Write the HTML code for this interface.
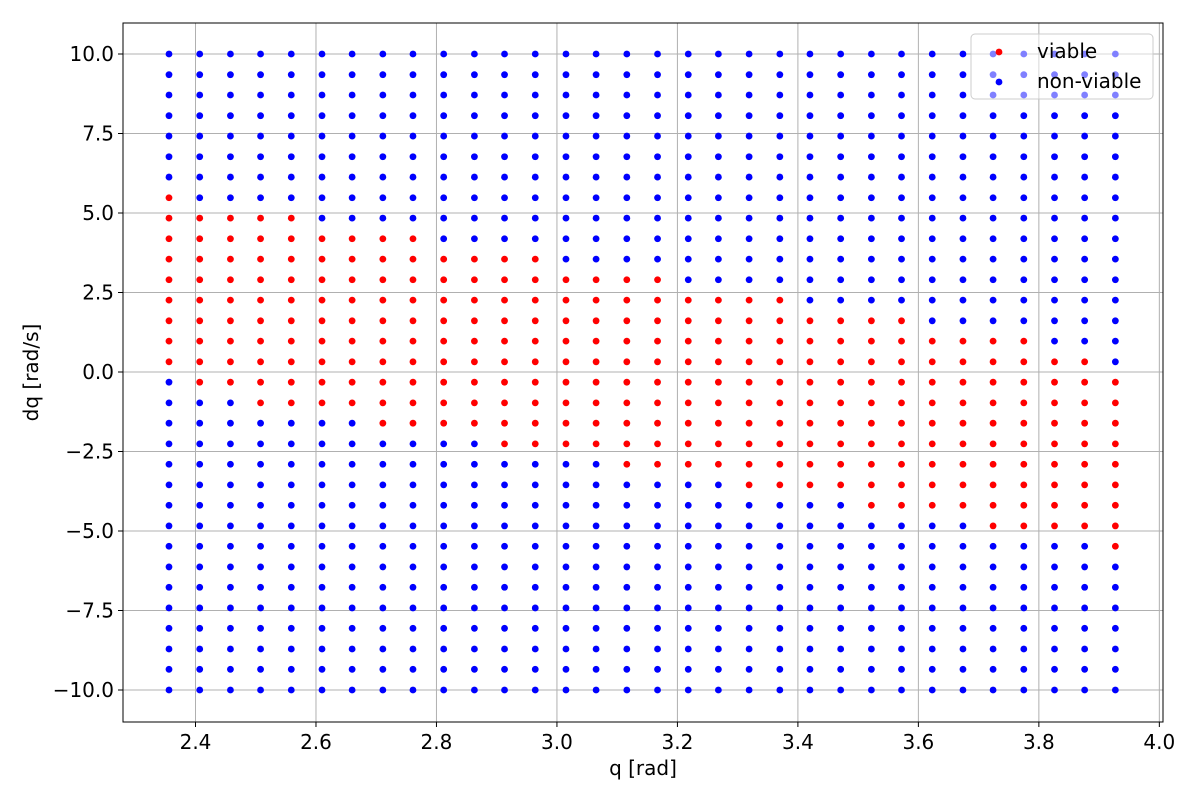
<!DOCTYPE html>
<html><head><meta charset="utf-8"><style>
html,body{margin:0;padding:0;background:#fff;}
svg text{font-family:"DejaVu Sans","Liberation Sans",sans-serif;}
</style></head><body>
<svg id="chart" width="1200" height="800" xmlns="http://www.w3.org/2000/svg">
<rect width="1200" height="800" fill="#fff"/>
<g id="grid"></g><g id="pts"></g><g id="axes"></g><g id="legend"></g>
</svg>
<script>
const qValues=[2.356,2.407,2.458,2.508,2.559,2.610,2.660,2.711,2.761,2.812,2.863,2.913,2.964,3.015,3.065,3.116,3.167,3.218,3.268,3.319,3.370,3.420,3.471,3.522,3.572,3.623,3.674,3.724,3.775,3.826,3.876,3.927];
const dqValues=[10.00,9.35,8.71,8.06,7.42,6.77,6.13,5.48,4.84,4.19,3.55,2.90,2.26,1.61,0.97,0.32,-0.32,-0.97,-1.61,-2.26,-2.90,-3.55,-4.19,-4.84,-5.48,-6.13,-6.77,-7.42,-8.06,-8.71,-9.35,-10.00];
const viableMax=[5.48,4.84,4.84,4.84,4.84,4.19,4.19,4.19,4.19,3.55,3.55,3.55,3.55,2.90,2.90,2.90,2.90,2.26,2.26,2.26,2.26,1.61,1.61,1.61,1.61,0.97,0.97,0.97,0.97,0.32,0.32,-0.32];
const viableMin=[0.32,-0.32,-0.32,-0.97,-0.97,-0.97,-0.97,-1.61,-1.61,-1.61,-1.61,-2.26,-2.26,-2.26,-2.26,-2.90,-2.90,-2.90,-2.90,-3.55,-3.55,-3.55,-3.55,-4.19,-4.19,-4.19,-4.19,-4.84,-4.84,-4.84,-4.84,-5.48];
const xTicks=[2.4,2.6,2.8,3.0,3.2,3.4,3.6,3.8,4.0];
const yTicks=[-10,-7.5,-5,-2.5,0,2.5,5,7.5,10];

const NS="http://www.w3.org/2000/svg";
const L=123,R=1163,T=23,B=722;
const X=v=>195.5+(v-2.4)*602.4;
const Y=v=>54+(10-v)*31.8;
function mk(tag,attrs,parent){const e=document.createElementNS(NS,tag);for(const k in attrs)e.setAttribute(k,attrs[k]);parent.appendChild(e);return e;}
const grid=document.getElementById('grid'),pts=document.getElementById('pts'),axes=document.getElementById('axes'),leg=document.getElementById('legend');

xTicks.forEach(t=>{
  const l=mk('line',{x1:X(t),x2:X(t),y1:T,y2:B,stroke:'#b0b0b0','stroke-width':1},grid);
  
  
  mk('line',{x1:X(t),x2:X(t),y1:B,y2:B+5,stroke:'#000','stroke-width':1},axes);
  const tx=mk('text',{x:X(t),y:B+27,'text-anchor':'middle','font-size':20},axes);
  tx.textContent=t.toFixed(1);
  
  
});
yTicks.forEach(t=>{
  const l=mk('line',{x1:L,x2:R,y1:Y(t),y2:Y(t),stroke:'#b0b0b0','stroke-width':1},grid);
  
  
  mk('line',{x1:L-5,x2:L,y1:Y(t),y2:Y(t),stroke:'#000','stroke-width':1},axes);
  const tx=mk('text',{x:L-9,y:Y(t)+7,'text-anchor':'end','font-size':20},axes);
  tx.textContent=(t<0?'\u2212':'')+Math.abs(t).toFixed(1);
  
  
});

qValues.forEach((q,i)=>{
  dqValues.forEach(dq=>{
    const v=dq<=viableMax[i]+1e-6&&dq>=viableMin[i]-1e-6;
    const c=mk('circle',{cx:X(q),cy:Y(dq),r:3.4,fill:v?'#ff0000':'#0000ff'},pts);
    
    
  });
});

const frame=mk('rect',{x:L,y:T,width:R-L,height:B-T,fill:'none',stroke:'#000','stroke-width':1},axes);


const xl=mk('text',{x:(L+R)/2,y:775,'text-anchor':'middle','font-size':20},axes);
xl.textContent='q [rad]';


const yl=mk('text',{x:38,y:(T+B)/2,'text-anchor':'middle','font-size':20,transform:'rotate(-90 38 '+((T+B)/2)+')'},axes);
yl.textContent='dq [rad/s]';



const box=mk('rect',{x:971,y:34,width:182,height:65,rx:4,fill:'#fff','fill-opacity':0.5,stroke:'#cccccc','stroke-width':1},leg);


const m1=mk('circle',{cx:999,cy:52,r:3.4,fill:'#ff0000'},leg);


const t1=mk('text',{x:1037,y:58,'font-size':20},leg);
t1.textContent='viable';


const m2=mk('circle',{cx:999,cy:82,r:3.4,fill:'#0000ff'},leg);


const t2=mk('text',{x:1037,y:88,'font-size':20},leg);
t2.textContent='non-viable';


</script>
</body></html>
